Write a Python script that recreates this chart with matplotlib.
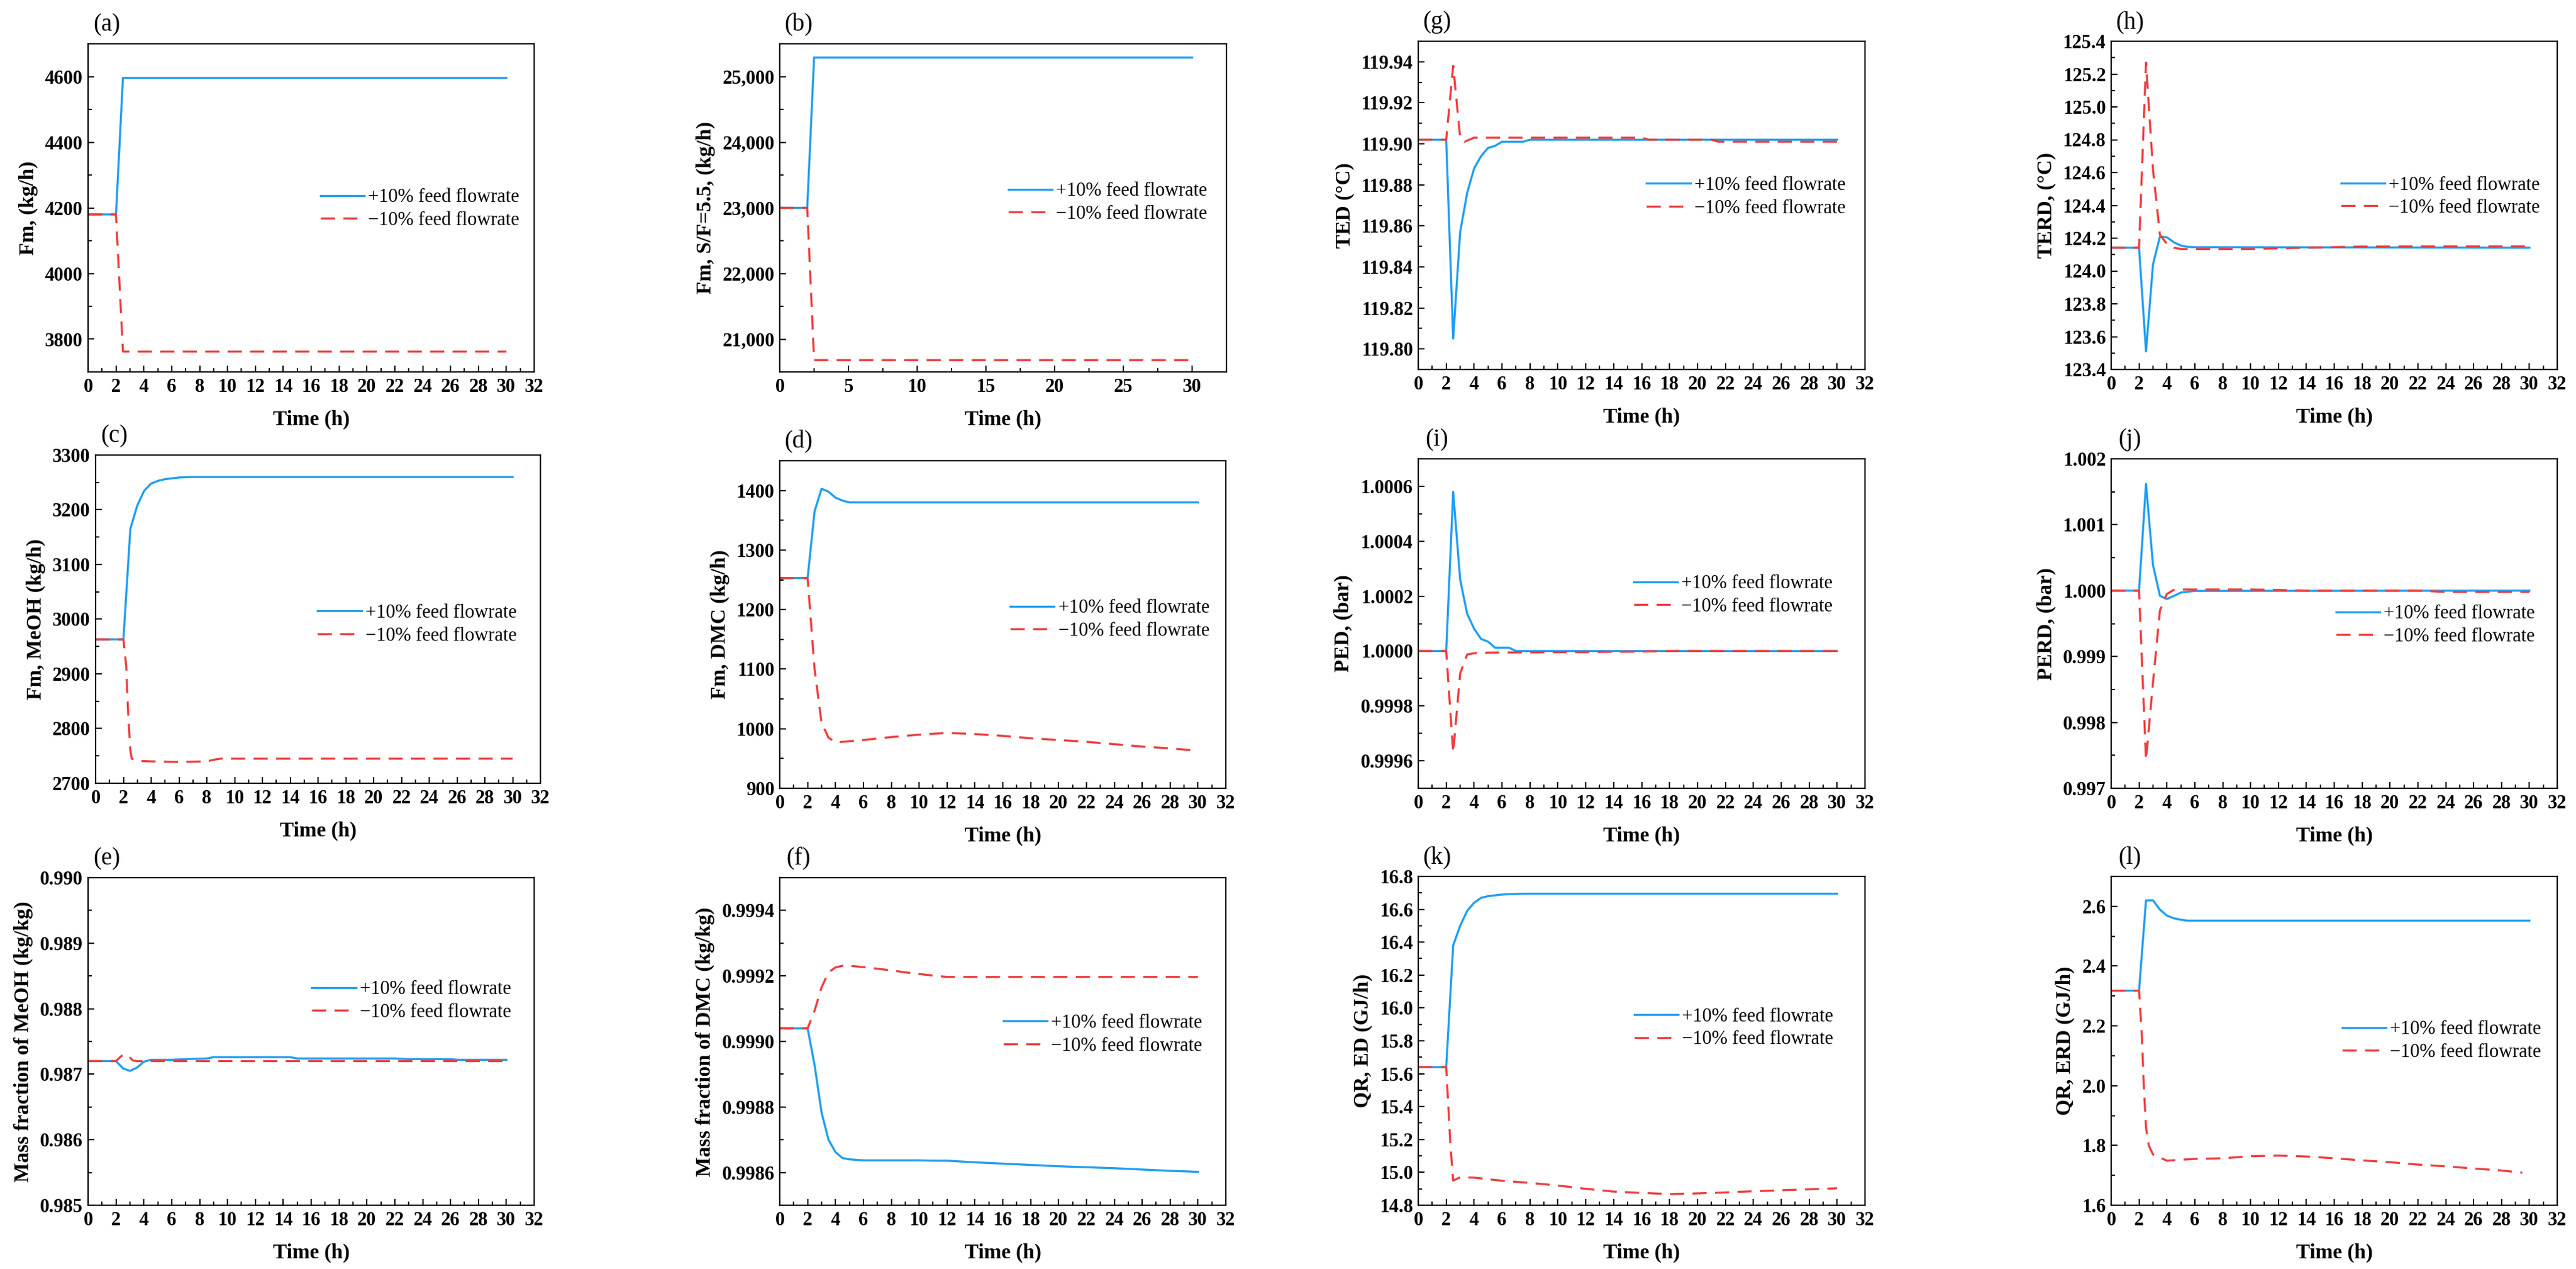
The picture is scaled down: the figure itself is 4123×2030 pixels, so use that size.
import matplotlib
matplotlib.use('Agg')
import matplotlib.pyplot as plt
from matplotlib.ticker import MultipleLocator, StrMethodFormatter

plt.rcParams['font.family'] = ['Liberation Serif', 'DejaVu Serif']

# ---------------- data ----------------
LBL_PLUS = '+10% feed flowrate'
LBL_MINUS = '\u221210% feed flowrate'

# (a) Fm
t_a = [0, 2, 2.5, 30]
a_plus = [4180, 4180, 4596, 4596]
a_minus = [4180, 4180, 3762, 3762]

# (b) Fm, S/F=5.5
t_b = [0, 2, 2.5, 30]
b_plus = [23000, 23000, 25290, 25290]
b_minus = [23000, 23000, 20680, 20680]

# (c) Fm, MeOH
t_c_plus = [0, 2, 2.5, 3, 3.5, 4, 4.5, 5, 6, 7, 30]
c_plus = [2963, 2963, 3165, 3208, 3235, 3248, 3253, 3256, 3259, 3260, 3260]
t_c_minus = [0, 2, 2.2, 2.35, 2.5, 2.6, 3, 4, 6, 8, 8.5, 9, 30]
c_minus = [2963, 2963, 2915, 2823, 2760, 2745, 2741, 2740, 2739, 2740, 2743, 2745, 2745]

# (d) Fm, DMC
t_d_plus = [0, 2, 2.5, 3, 3.5, 4, 4.5, 5, 30]
d_plus = [1253, 1253, 1365, 1403, 1398, 1388, 1383, 1380, 1380]
t_d_minus = [0, 2, 2.5, 3, 3.5, 4, 5, 6, 8, 10, 12, 14, 16, 18, 20, 22, 24, 26, 28, 30]
d_minus = [1253, 1253, 1100, 1010, 985, 977, 979, 981, 986, 990, 993, 991, 988, 984, 981, 978, 974, 970, 967, 963]

# (e) Mass fraction of MeOH
t_e_plus = [0, 2, 2.5, 3, 3.5, 4, 4.5, 6, 7, 8.5, 9, 14.5, 15, 22, 23, 26, 26.5, 30]
e_plus = [0.98720, 0.98720, 0.98709, 0.98705, 0.98710, 0.98719, 0.98722, 0.98722, 0.98723,
          0.98724, 0.98726, 0.98726, 0.98724, 0.98724, 0.98723, 0.98723, 0.98722, 0.98722]
t_e_minus = [0, 2, 2.4, 2.8, 3.2, 3.5, 30]
e_minus = [0.98720, 0.98720, 0.98728, 0.98730, 0.98721, 0.98720, 0.98720]

# (f) Mass fraction of DMC
t_f = [0, 2, 2.5, 3, 3.5, 4, 4.5, 5, 6, 8, 9, 10, 11, 12, 14, 16, 18, 20, 22, 24, 26, 28, 30]
f_plus = [0.999040, 0.999040, 0.998928, 0.998783, 0.998700, 0.998662, 0.998644, 0.998640,
          0.998637, 0.998637, 0.998637, 0.998637, 0.998636, 0.998636, 0.998631, 0.998627,
          0.998623, 0.998619, 0.998616, 0.998613, 0.998609, 0.998605, 0.998602]
f_minus = [0.999040, 0.999040, 0.999094, 0.999165, 0.999211, 0.999226, 0.999231, 0.999231,
           0.999227, 0.999217, 0.999211, 0.999206, 0.999201, 0.999197, 0.999197, 0.999197,
           0.999197, 0.999197, 0.999197, 0.999197, 0.999197, 0.999197, 0.999197]

# (g) TED
t_g_plus = [0, 2, 2.5, 3, 3.5, 4, 4.5, 5, 5.5, 6, 7.5, 8, 30]
g_plus = [119.902, 119.902, 119.805, 119.857, 119.876, 119.888, 119.894, 119.898, 119.899,
          119.901, 119.901, 119.902, 119.902]
t_g_minus = [0, 2, 2.5, 3, 3.3, 4, 16, 16.5, 21, 21.5, 30]
g_minus = [119.902, 119.902, 119.938, 119.903, 119.901, 119.903, 119.903, 119.902, 119.902,
           119.901, 119.901]

# (h) TERD
t_h_plus = [0, 2, 2.5, 3, 3.5, 4, 4.5, 5, 5.5, 6, 30]
h_plus = [124.142, 124.142, 123.51, 124.04, 124.21, 124.205, 124.175, 124.155, 124.147, 124.145, 124.142]
t_h_minus = [0, 2, 2.5, 3, 3.5, 4, 4.5, 5, 5.5, 10, 14, 18, 22, 30]
h_minus = [124.142, 124.142, 125.27, 124.62, 124.22, 124.165, 124.142, 124.134, 124.134, 124.134,
           124.142, 124.149, 124.150, 124.150]

# (i) PED
t_i_plus = [0, 2, 2.5, 3, 3.5, 4, 4.5, 5, 5.5, 6.5, 7, 30]
i_plus = [1.0, 1.0, 1.00058, 1.00026, 1.000136, 1.000081, 1.000044, 1.000034, 1.000012,
          1.000012, 1.0, 1.0]
t_i_minus = [0, 2, 2.5, 3, 3.5, 4, 5, 8, 12, 16, 18, 30]
i_minus = [1.0, 1.0, 0.99963, 0.999918, 0.999987, 0.999992, 0.999994, 0.999995, 0.999996,
           0.999998, 1.0, 1.0]

# (j) PERD
t_j_plus = [0, 2, 2.5, 3, 3.5, 4, 4.5, 5, 6, 30]
j_plus = [1.0, 1.0, 1.00162, 1.00039, 0.999921, 0.999872, 0.99992, 0.99997, 0.999996, 1.0]
t_j_minus = [0, 2, 2.5, 3, 3.5, 4, 4.5, 5, 10, 12, 14, 22, 24, 30]
j_minus = [1.0, 1.0, 0.99743, 0.99860, 0.99970, 0.99995, 1.00001, 1.000017, 1.000017, 1.00001,
           1.0, 1.0, 0.99998, 0.99998]

# (k) QR, ED
t_k_plus = [0, 2, 2.5, 3, 3.5, 4, 4.5, 5, 6, 7.5, 30]
k_plus = [15.64, 15.64, 16.38, 16.50, 16.59, 16.64, 16.67, 16.68, 16.69, 16.695, 16.695]
t_k_minus = [0, 2, 2.3, 2.5, 3, 4, 6, 8, 10, 12, 14, 16, 18, 20, 22, 24, 26, 28, 30]
k_minus = [15.64, 15.64, 15.17, 14.95, 14.97, 14.968, 14.949, 14.936, 14.92, 14.90, 14.883,
           14.875, 14.868, 14.872, 14.878, 14.885, 14.891, 14.897, 14.903]

# (l) QR, ERD
t_l_plus = [0, 2, 2.5, 3, 3.5, 4, 4.5, 5, 5.5, 30]
l_plus = [2.318, 2.318, 2.62, 2.62, 2.589, 2.569, 2.56, 2.555, 2.552, 2.552]
t_l_minus = [0, 2, 2.2, 2.35, 2.5, 2.7, 3, 4, 5, 6, 8, 10, 12, 14, 16, 18, 20, 22, 24, 26, 28, 29.5]
l_minus = [2.318, 2.318, 2.17, 1.99, 1.86, 1.80, 1.77, 1.749, 1.752, 1.755, 1.757, 1.764, 1.766,
           1.763, 1.757, 1.750, 1.744, 1.736, 1.730, 1.723, 1.716, 1.709]

# ---------------- layout ----------------
W, H = 4123, 2030
fig = plt.figure(figsize=(W / 100, H / 100), dpi=100)

BLUE = '#1E9EF2'
RED = '#F03C3C'
LW = 2.4

panels = [
    # letter, rect px (l, t, r, b), plus, minus, ylabel, ylim, major, minor, fmt, legend (x0, yc)
    ('a', (141, 70, 855, 595), (t_a, a_plus), (t_a, a_minus), 'Fm, (kg/h)',
     (3700, 4700), 200, 100, '{x:.0f}', (0.521, 0.497)),
    ('b', (1248, 70, 1963, 595), (t_b, b_plus), (t_b, b_minus), 'Fm, S/F=5.5, (kg/h)',
     (20500, 25500), 1000, 500, '{x:,.0f}', (0.512, 0.516)),
    ('g', (2270, 66, 2985, 591), (t_g_plus, g_plus), (t_g_minus, g_minus), 'TED (\u00b0C)',
     (119.79, 119.95), 0.02, 0.01, '{x:.2f}', (0.511, 0.526)),
    ('h', (3379, 66, 4093, 591), (t_h_plus, h_plus), (t_h_minus, h_minus), 'TERD, (\u00b0C)',
     (123.4, 125.4), 0.2, 0.1, '{x:.1f}', (0.515, 0.527)),
    ('c', (153, 728, 865, 1253), (t_c_plus, c_plus), (t_c_minus, c_minus), 'Fm, MeOH (kg/h)',
     (2700, 3300), 100, 50, '{x:.0f}', (0.499, 0.484)),
    ('d', (1248, 737, 1962, 1261), (t_d_plus, d_plus), (t_d_minus, d_minus), 'Fm, DMC (kg/h)',
     (900, 1450), 100, 50, '{x:.0f}', (0.517, 0.515)),
    ('i', (2270, 734, 2985, 1261), (t_i_plus, i_plus), (t_i_minus, i_minus), 'PED, (bar)',
     (0.9995, 1.0007), 0.0002, 0.0001, '{x:.4f}', (0.482, 0.586)),
    ('j', (3379, 734, 4093, 1261), (t_j_plus, j_plus), (t_j_minus, j_minus), 'PERD, (bar)',
     (0.997, 1.002), 0.001, 0.0005, '{x:.3f}', (0.504, 0.495)),
    ('e', (141, 1404, 855, 1928), (t_e_plus, e_plus), (t_e_minus, e_minus),
     'Mass fraction of MeOH (kg/kg)', (0.985, 0.990), 0.001, 0.0005, '{x:.3f}', (0.502, 0.624)),
    ('f', (1248, 1404, 1962, 1928), (t_f, f_plus), (t_f, f_minus),
     'Mass fraction of DMC (kg/kg)', (0.9985, 0.9995), 0.0002, 0.0001, '{x:.4f}', (0.501, 0.521)),
    ('k', (2270, 1402, 2985, 1928), (t_k_plus, k_plus), (t_k_minus, k_minus), 'QR, ED (GJ/h)',
     (14.8, 16.8), 0.2, 0.1, '{x:.1f}', (0.484, 0.539)),
    ('l', (3379, 1402, 4093, 1928), (t_l_plus, l_plus), (t_l_minus, l_minus), 'QR, ERD (GJ/h)',
     (1.6, 2.7), 0.2, 0.1, '{x:.1f}', (0.518, 0.4995)),
]

TICK_FS = 22
LABEL_FS = 24
LEG_FS = 22

for letter, (l, t, r, b), plus, minus, ylabel, ylim, major, minor, fmt, legpos in panels:
    ax = fig.add_axes([l / W, 1 - b / H, (r - l) / W, (b - t) / H])
    ax.plot(plus[0], plus[1], color=BLUE, lw=LW, label=LBL_PLUS, solid_joinstyle='round')
    ax.plot(minus[0], minus[1], color=RED, lw=LW, dashes=(6.8, 4.0), label=LBL_MINUS)

    ax.set_ylim(*ylim)
    ax.yaxis.set_major_locator(MultipleLocator(major))
    ax.yaxis.set_minor_locator(MultipleLocator(minor))
    ax.yaxis.set_major_formatter(StrMethodFormatter(fmt))
    if letter == 'b':
        ax.set_xlim(0, 32.5)
        ax.xaxis.set_major_locator(MultipleLocator(5))
        ax.xaxis.set_minor_locator(MultipleLocator(2.5))
    else:
        ax.set_xlim(0, 32)
        ax.xaxis.set_major_locator(MultipleLocator(2))
        ax.xaxis.set_minor_locator(MultipleLocator(1))

    for sp in ax.spines.values():
        sp.set_linewidth(1.6)
    ax.tick_params(which='both', direction='in', top=False, right=False, width=1.5)
    ax.tick_params(which='major', length=7)
    ax.tick_params(which='minor', length=4)
    ax.tick_params(axis='x', which='major', pad=7)
    ax.tick_params(axis='y', which='major', pad=6)
    for lab in ax.get_xticklabels() + ax.get_yticklabels():
        lab.set_fontsize(TICK_FS)
        lab.set_fontweight('bold')

    ax.set_xlabel('Time (h)', fontsize=LABEL_FS, fontweight='bold', labelpad=16)
    ax.set_ylabel(ylabel, fontsize=LABEL_FS, fontweight='bold', labelpad=8)

    ax.legend(loc='center left', bbox_to_anchor=legpos, frameon=False,
              prop={'family': 'Liberation Serif', 'size': LEG_FS},
              handlelength=2.3, handletextpad=0.2, labelspacing=0.25,
              borderpad=0, borderaxespad=0)

    fig.text((l + 30) / W, 1 - (t - 30) / H, '(' + letter + ')', fontsize=28,
             ha='center', va='center')

fig.savefig('out.png', dpi=100)
